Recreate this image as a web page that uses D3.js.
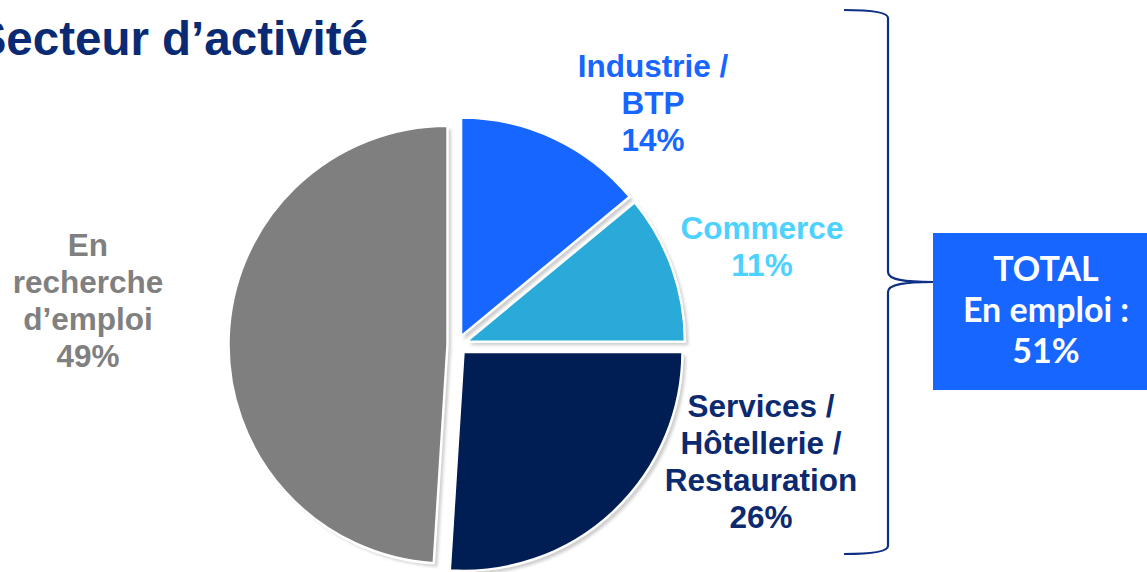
<!DOCTYPE html>
<html><head><meta charset="utf-8">
<script src="https://cdn.jsdelivr.net/npm/d3@7"></script>
<style>html,body{margin:0;padding:0;background:#fff;overflow:hidden}</style>
</head><body>
<svg id="chart" width="1147" height="572"></svg>
<script>
// ---- data ----
const categories = ["Industrie / BTP", "Commerce", "Services / Hôtellerie / Restauration", "En recherche d’emploi"];
const values = [14, 11, 26, 49];
const labelLines = [["Industrie /", "BTP", "14%"], ["Commerce", "11%"], ["Services /", "Hôtellerie /", "Restauration", "26%"], ["En", "recherche", "d’emploi", "49%"]];
const title = "Secteur d’activité";
const totalLines = ["TOTAL", "En emploi :", "51%"];

// ---- styles / layout ----
const sliceColors = ["#1766FF", "#29AAD9", "#001D54", "#7F7F7F"];
const labelColors = ["#1766FF", "#4DD2FF", "#0C2A70", "#808080"];
const labelPos = [[653, 77], [762, 239], [761, 417], [88, 256]];
const lineH = 37;
const cx = 457, cy = 345, R = 219, explode = 9.5;

const svg = d3.select("#chart");
const defs = svg.append("defs");
defs.append("filter").attr("id", "blur").attr("x", "-10%").attr("y", "-10%").attr("width", "130%").attr("height", "130%")
  .append("feGaussianBlur").attr("stdDeviation", 1.6);

// Title
svg.append("text").attr("x", 368).attr("y", 55).attr("text-anchor", "end")
  .attr("font-family", "Liberation Sans, Arial, sans-serif").attr("font-weight", "bold")
  .attr("font-size", 47.5).attr("fill", "#0A2A74").text(title);

// Pie
const pie = d3.pie().sort(null).startAngle(0).endAngle(2 * Math.PI);
const arcs = pie(values);
const arcGen = d3.arc().innerRadius(0).outerRadius(R);
const g = svg.append("g").attr("transform", `translate(${cx},${cy})`);
function off(d) {
  const a = (d.startAngle + d.endAngle) / 2;
  return [explode * Math.sin(a), -explode * Math.cos(a)];
}
g.selectAll("path.shadow").data(arcs).enter().append("path").attr("class", "shadow")
  .attr("d", arcGen).attr("fill", "#CFCFCF").attr("filter", "url(#blur)")
  .attr("transform", d => { const o = off(d); return `translate(${o[0] + 3.5},${o[1] + 3.5})`; });
g.selectAll("path.slice").data(arcs).enter().append("path").attr("class", "slice")
  .attr("d", arcGen).attr("fill", (d, i) => sliceColors[i])
  .attr("stroke", "#fff").attr("stroke-width", 2.5).attr("stroke-linejoin", "miter")
  .attr("transform", d => { const o = off(d); return `translate(${o[0]},${o[1]})`; });

// Labels
labelLines.forEach((lines, i) => {
  const t = svg.append("text").attr("text-anchor", "middle")
    .attr("font-family", "Liberation Sans, Arial, sans-serif").attr("font-weight", "bold")
    .attr("font-size", 31.5).attr("fill", labelColors[i]);
  lines.forEach((l, k) => t.append("tspan").attr("x", labelPos[i][0]).attr("y", labelPos[i][1] + k * lineH).text(l));
});

// Brace
const brace = d3.path();
brace.moveTo(844, 10);
brace.bezierCurveTo(870, 10, 888, 12, 888, 18);
brace.lineTo(888, 272);
brace.bezierCurveTo(888, 280, 905, 282, 933, 282);
brace.moveTo(933, 282);
brace.bezierCurveTo(905, 282, 888, 284, 888, 292);
brace.lineTo(888, 546);
brace.bezierCurveTo(888, 552, 870, 554, 844, 554);
svg.append("path").attr("d", brace.toString()).attr("fill", "none")
  .attr("stroke", "#0E2F86").attr("stroke-width", 2.2);

// Total box
svg.append("rect").attr("x", 933).attr("y", 233).attr("width", 230).attr("height", 157).attr("fill", "#1766FF");
const tt = svg.append("text").attr("text-anchor", "middle")
  .attr("font-family", "Lato, Open Sans, sans-serif").attr("font-weight", "bold")
  .attr("font-size", 34).attr("fill", "#fff");
totalLines.forEach((l, k) => tt.append("tspan").attr("x", 1046).attr("y", 281 + k * 41).text(l));
</script>
</body></html>
